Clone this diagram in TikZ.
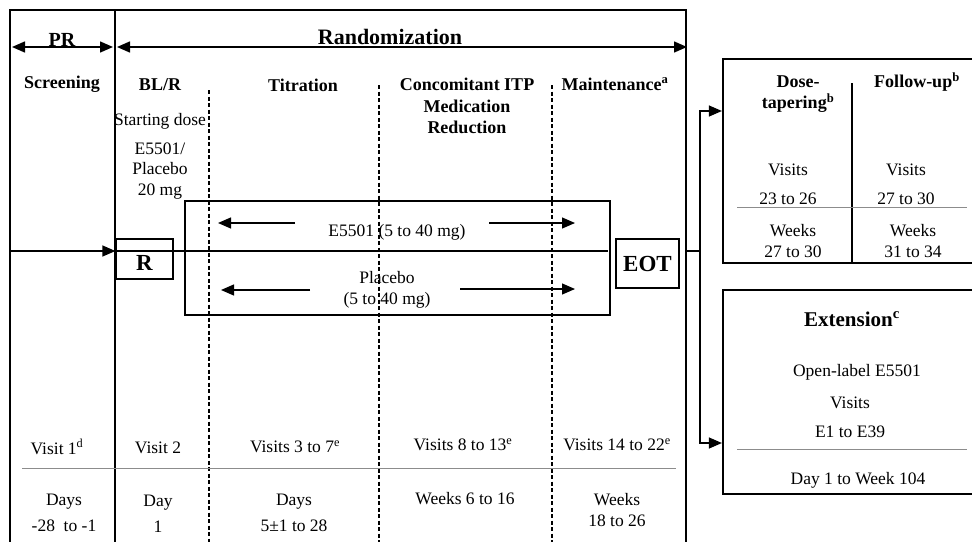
\documentclass[tikz,border=0pt]{standalone}
\usepackage{fontspec}
\setmainfont{Liberation Serif}
\usetikzlibrary{positioning,arrows.meta}

\begin{document}
\begin{tikzpicture}[x=1pt, y=-1pt,
	outerline/.style={line width=2.2pt},
	phaseline/.style={line width=1.8pt, dash pattern=on 4pt off 2.5pt},
	txt/.style={font=\fontsize{17.5}{20.5}\selectfont, inner sep=0pt, align=center},
	head/.style={txt, font=\fontsize{18}{21.5}\selectfont\bfseries},
	bigtxt/.style={font=\fontsize{23}{26}\selectfont\bfseries, inner sep=0pt},
	seprule/.style={draw=black!45, line width=1pt},
	arrowline/.style={line width=1.2pt, -{Triangle[length=13pt,width=11pt]}},
	boxed/.style={draw, line width=1.2pt, inner sep=0pt}
	]
	\useasboundingbox (0,0) rectangle (972,541);
	
	% study frame
	\draw[outerline] (10,548) -- (10,10) -- (686,10) -- (686,548);
	\draw[outerline] (115,10) -- (115,548);
	\foreach \x/\y in {209/90, 379/85, 552/85}
	\draw[phaseline] (\x,\y) -- (\x,548);
	
	% periods
	\node[bigtxt, font=\fontsize{20}{24}\selectfont\bfseries] (pr) at (62,40) {PR};
	\node[bigtxt, font=\fontsize{22}{26}\selectfont\bfseries] (rand) at (390,37) {Randomization};
	\coordinate (prl) at (12,47);
	\coordinate (prr) at (113,47);
	\coordinate (randl) at (117,47);
	\coordinate (randr) at (687,47);
	\draw[line width=1.4pt, {Triangle[length=13pt,width=11pt]}-{Triangle[length=13pt,width=11pt]}] (prl) -- (prr);
	\draw[line width=1.4pt, {Triangle[length=13pt,width=11pt]}-{Triangle[length=13pt,width=11pt]}] (randl) -- (randr);
	
	% phase headers
	\node[head] (scr) at (62,84) {Screening};
	\node[head] (blr) at (160,85) {BL/R};
	\node[head] (tit) at (303,85) {Titration};
	\node[head] (con) at (467,106) {Concomitant ITP\\Medication\\Reduction};
	\node[head] (mai) at (615,84) {Maintenance\textsuperscript{a}};
	\node[txt] (sd) at (160,121) {Starting dose};
	\node[txt] (sdv) at (160,171) {E5501/\\Placebo\\20 mg};
	
	% treatment arms
	\node[boxed, minimum width=425, minimum height=114] (trt) at (397.5,258) {};
	\node[boxed, minimum width=57, minimum height=40] (R) at (144.5,259) {};
	\node[bigtxt] at ([yshift=-4pt]R.center) {R};
	\node[boxed, minimum width=63, minimum height=49] (eot) at (647.5,263.5) {};
	\node[bigtxt] at (eot.center) {EOT};
	\node[txt] (act) at (397,232) {E5501 (5 to 40 mg)};
	\node[txt] (pbo) at (387,290) {Placebo\\(5 to 40 mg)};
	
	\coordinate (in) at (10,251);
	\coordinate (mid) at (608,251);
	\draw[arrowline] (in) -- (R.west |- in);
	\draw[line width=1.2pt] (R.west |- in) -- (mid);
	\draw[arrowline] (295,223) -- (218,223);
	\draw[arrowline] (489,223) -- (575,223);
	\draw[arrowline] (310,290) -- (221,290);
	\draw[arrowline] (460,289) -- (575,289);
	
	% visits and days
	\draw[seprule] (22,468) -- (676,468);
	\node[txt] (v1) at (57,447) {Visit 1\textsuperscript{d}};
	\node[txt] (v2) at (158,448) {Visit 2};
	\node[txt] (v3) at (295,447) {Visits 3 to 7\textsuperscript{e}};
	\node[txt] (v8) at (463,445) {Visits 8 to 13\textsuperscript{e}};
	\node[txt] (v14) at (617,445) {Visits 14 to 22\textsuperscript{e}};
	\node[txt] (d1) at (64,513) {Days\\[6pt]-28\ \ to -1};
	\node[txt] (d2) at (158,514) {Day\\[6pt]1};
	\node[txt] (d3) at (294,513) {Days\\[6pt]5±1 to 28};
	\node[txt] (d8) at (465,499) {Weeks 6 to 16};
	\node[txt] (d14) at (617,510) {Weeks\\18 to 26};
	
	% after treatment
	\node[draw, outerline, minimum width=262, minimum height=204, inner sep=0pt] (dose) at (854,161) {};
	\node[draw, outerline, minimum width=262, minimum height=204, inner sep=0pt] (ext) at (854,392) {};
	\coordinate (out) at (686,251);
	\coordinate (split) at (700,251);
	\draw[line width=1.2pt] (out) -- (split);
	\draw[arrowline] (split) |- (dose.west |- 0,111);
	\draw[arrowline] (split) |- (ext.west |- 0,443);
	
	\draw[line width=1.2pt] (852,83) -- (dose.south -| 852,0);
	\draw[seprule] (737,207) -- (967,207);
	\node[head] (tap) at (798,94) {Dose-\\tapering\textsuperscript{b}};
	\node[head] (fup) at (917,82) {Follow-up\textsuperscript{b}};
	\node[txt] at (788,170) {Visits};
	\node[txt] at (788,199) {23 to 26};
	\node[txt] at (906,170) {Visits};
	\node[txt] at (906,199) {27 to 30};
	\node[txt] at (793,231) {Weeks};
	\node[txt] at (793,252) {27 to 30};
	\node[txt] at (913,231) {Weeks};
	\node[txt] at (913,252) {31 to 34};
	
	\node[bigtxt, font=\fontsize{21}{25}\selectfont\bfseries] (exth) at (852,319) {Extension\textsuperscript{c}};
	\node[txt] at (857,372) {Open-label E5501};
	\node[txt] at (850,403) {Visits};
	\node[txt] at (850,432) {E1 to E39};
	\draw[seprule] (737,449) -- (967,449);
	\node[txt] at (858,480) {Day 1 to Week 104};
\end{tikzpicture}
\end{document}
